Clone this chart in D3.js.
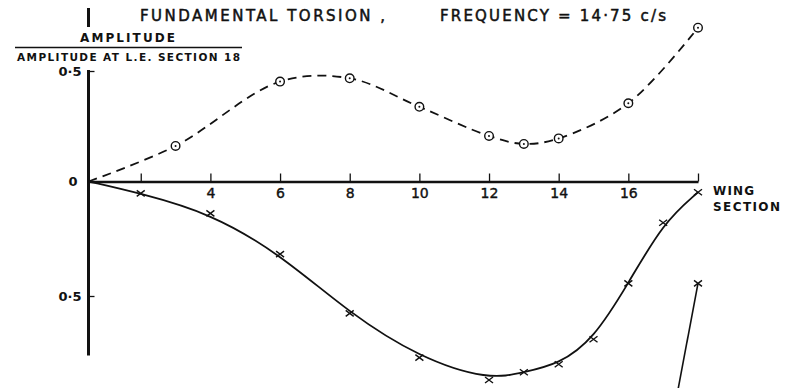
<!DOCTYPE html>
<html>
<head>
<meta charset="utf-8">
<script src="https://cdn.jsdelivr.net/npm/d3@7"></script>
<style>
  body { margin: 0; background: #fff; }
  text { font-family: "DejaVu Sans", sans-serif; fill: #111; }
</style>
</head>
<body>
<svg id="chart" width="797" height="388"></svg>
<script>
// wing sections where the x axis has ticks
const tickSections = [2, 4, 6, 8, 10, 12, 14, 16, 18];
const labelledSections = [4, 6, 8, 10, 12, 14, 16];

// leading edge / dashed curve with circle markers (above the axis)
const circleSections = [3, 6, 8, 10, 12, 13, 14, 16, 18];
const circleValues = [0.161, 0.452, 0.467, 0.338, 0.206, 0.170, 0.195, 0.354, 0.696];

// trailing edge / solid curve with cross markers (plotted below the axis)
const crossSections = [2, 4, 6, 8, 10, 12, 13, 14, 15, 16, 17, 18];
const crossValues = [-0.052, -0.139, -0.317, -0.576, -0.769, -0.867, -0.833, -0.798, -0.689, -0.445, -0.18, -0.047];

// stray point at section 18 with its leader line
const strayPoint = [{ x: 18, y: -0.445 }];
const leaderLine = [{ x: 18, y: -0.445 }, { x: 17.4, y: -0.93 }];

const rootSection = 0.5;
const yAxisBottom = -0.76;
const yTickValues = [0.5, -0.5];

const svg = d3.select("#chart");

const x = d3.scaleLinear().domain([rootSection, 18]).range([88.5, 698]);
const y = d3.scaleLinear().domain([-0.5, 0, 0.5]).range([296, 181.5, 71]);

const upperData = [{ x: rootSection, y: 0 }].concat(
  circleSections.map((s, i) => ({ x: s, y: circleValues[i] }))
);
const lowerData = [{ x: rootSection, y: 0 }].concat(
  crossSections.map((s, i) => ({ x: s, y: crossValues[i] }))
);

// little bar above the title
svg.append("line")
  .attr("x1", 88.5).attr("x2", 88.5)
  .attr("y1", 8).attr("y2", 27)
  .attr("stroke", "#111").attr("stroke-width", 3);

// titles
svg.append("text")
  .attr("x", 140).attr("y", 20.5)
  .attr("font-size", 15)
  .attr("stroke", "#111").attr("stroke-width", 0.5)
  .attr("textLength", 245).attr("lengthAdjust", "spacing")
  .text("FUNDAMENTAL TORSION ,");

svg.append("text")
  .attr("x", 440).attr("y", 20.5)
  .attr("font-size", 15)
  .attr("stroke", "#111").attr("stroke-width", 0.5)
  .attr("textLength", 226).attr("lengthAdjust", "spacing")
  .text("FREQUENCY = 14·75 c/s");

// y label as a fraction
svg.append("text")
  .attr("x", 80).attr("y", 42)
  .attr("font-size", 12).attr("font-weight", "bold")
  .attr("textLength", 95).attr("lengthAdjust", "spacing")
  .text("AMPLITUDE");

svg.append("line")
  .attr("x1", 15).attr("x2", 242)
  .attr("y1", 47.5).attr("y2", 47.5)
  .attr("stroke", "#111").attr("stroke-width", 1.5);

svg.append("text")
  .attr("x", 17).attr("y", 61)
  .attr("font-size", 10.5).attr("font-weight", "bold")
  .attr("textLength", 223).attr("lengthAdjust", "spacing")
  .text("AMPLITUDE AT L.E. SECTION 18");

// x axis
const xAxis = d3.axisBottom(x)
  .tickValues(tickSections)
  .tickSize(-8)
  .tickSizeOuter(0)
  .tickPadding(7)
  .tickFormat((d) => (labelledSections.includes(d) ? d : ""));

const gx = svg.append("g")
  .attr("transform", `translate(0,${y(0)})`)
  .call(xAxis);

gx.select(".domain").attr("stroke", "#111").attr("stroke-width", 2.6);
gx.selectAll(".tick line").attr("stroke", "#111").attr("stroke-width", 1.3);
gx.selectAll(".tick text")
  .attr("font-size", 14)
  .attr("font-family", "DejaVu Sans")
  .attr("stroke", "#111").attr("stroke-width", 0.4)
  .attr("fill", "#111");

// y axis
const yAxis = d3.axisLeft(y)
  .tickValues(yTickValues)
  .tickSize(-6)
  .tickPadding(7)
  .tickFormat(() => "0·5");

const gy = svg.append("g")
  .attr("transform", `translate(${x(rootSection)},0)`)
  .call(yAxis);

gy.select(".domain").remove();
gy.selectAll(".tick line").attr("stroke", "#111").attr("stroke-width", 1.3);
gy.selectAll(".tick text")
  .attr("font-size", 13)
  .attr("font-weight", "bold")
  .attr("font-family", "DejaVu Sans")
  .attr("fill", "#111");

gy.append("line")
  .attr("x1", 0).attr("x2", 0)
  .attr("y1", y(0.5) - 1).attr("y2", y(yAxisBottom))
  .attr("stroke", "#111").attr("stroke-width", 3);

svg.append("text")
  .attr("x", x(rootSection) - 11).attr("y", y(0))
  .attr("dy", "0.36em")
  .attr("text-anchor", "end")
  .attr("font-size", 13)
  .attr("font-weight", "bold")
  .text("0");

svg.append("text")
  .attr("x", 713).attr("y", 195)
  .attr("font-size", 12).attr("font-weight", "bold")
  .attr("textLength", 41).attr("lengthAdjust", "spacing")
  .text("WING");

svg.append("text")
  .attr("x", 713).attr("y", 211)
  .attr("font-size", 12).attr("font-weight", "bold")
  .attr("textLength", 67).attr("lengthAdjust", "spacing")
  .text("SECTION");

// curves
const upperLine = d3.line()
  .x((d) => x(d.x))
  .y((d) => y(d.y))
  .curve(d3.curveCatmullRom.alpha(0.5));

const lowerLine = d3.line()
  .x((d) => x(d.x))
  .y((d) => y(d.y))
  .curve(d3.curveBasis);

svg.append("path")
  .datum(upperData)
  .attr("d", upperLine)
  .attr("fill", "none")
  .attr("stroke", "#111")
  .attr("stroke-width", 1.8)
  .attr("stroke-dasharray", "9,6");

svg.append("path")
  .datum(lowerData)
  .attr("d", lowerLine)
  .attr("fill", "none")
  .attr("stroke", "#111")
  .attr("stroke-width", 1.8);

svg.append("path")
  .datum(leaderLine)
  .attr("d", d3.line().x((d) => x(d.x)).y((d) => y(d.y)))
  .attr("fill", "none")
  .attr("stroke", "#111")
  .attr("stroke-width", 1.6);

// markers
const circles = svg.append("g")
  .selectAll("g")
  .data(upperData.slice(1))
  .join("g")
  .attr("transform", (d) => `translate(${x(d.x)},${y(d.y)})`);

circles.append("circle")
  .attr("r", 4.3)
  .attr("fill", "#fff")
  .attr("stroke", "#111")
  .attr("stroke-width", 1.4);

circles.append("circle")
  .attr("r", 1)
  .attr("fill", "#111");

const crossPath = "M-4,-3L4,3M-4,3L4,-3";

svg.append("g")
  .selectAll("path")
  .data(lowerData.slice(1).concat(strayPoint))
  .join("path")
  .attr("transform", (d) => `translate(${x(d.x)},${y(d.y)})`)
  .attr("d", crossPath)
  .attr("stroke", "#111")
  .attr("stroke-width", 1.4);
</script>
</body>
</html>
